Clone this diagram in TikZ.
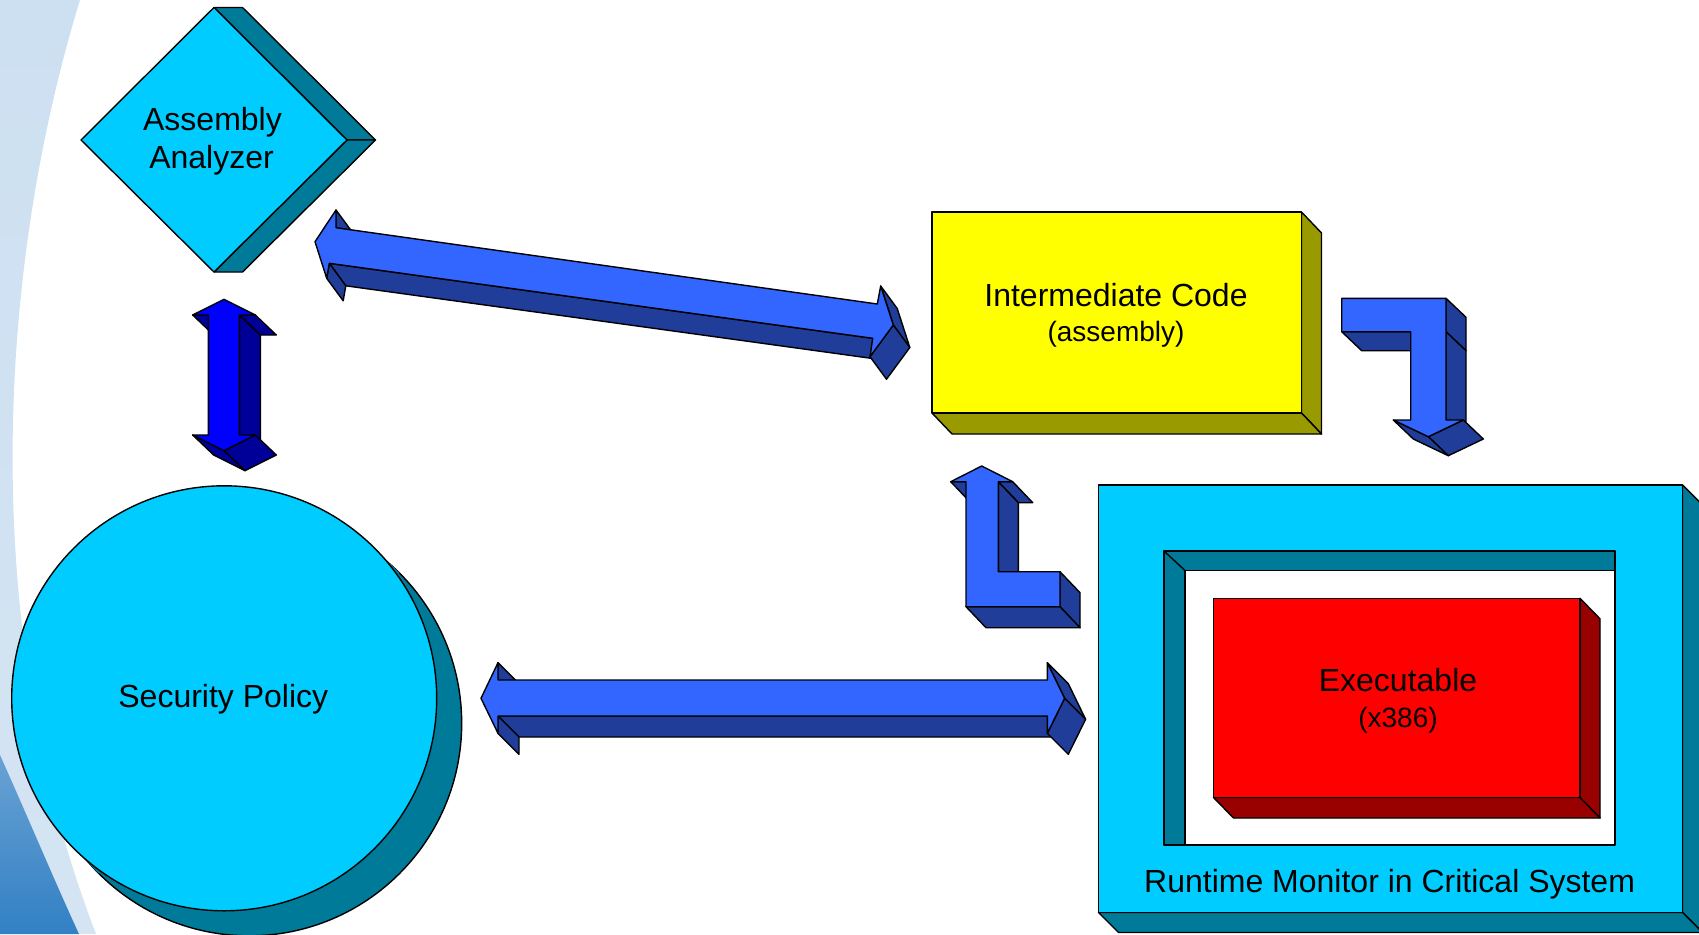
\documentclass[tikz,border=0pt]{standalone}
\usepackage{fontspec}
\setmainfont{Liberation Sans}
\usetikzlibrary{calc}

\definecolor{cyanface}{RGB}{0,204,255}
\definecolor{tealside}{RGB}{0,122,153}
\definecolor{yellowface}{RGB}{255,255,0}
\definecolor{oliveside}{RGB}{153,153,0}
\definecolor{redface}{RGB}{255,0,0}
\definecolor{redside}{RGB}{153,0,0}
\definecolor{arrowface}{RGB}{51,102,255}
\definecolor{arrowside}{RGB}{31,61,153}
\definecolor{deepface}{RGB}{0,0,255}
\definecolor{deepside}{RGB}{0,0,153}
\definecolor{swooshlight}{RGB}{205,224,241}
\definecolor{swooshmid}{RGB}{246,249,252}
\definecolor{swooshlow}{RGB}{212,228,243}
\definecolor{swooshdarktop}{RGB}{105,162,212}
\definecolor{swooshdarkbot}{RGB}{50,128,196}

% one extruded side of a solid: edge A--B swept along the depth vector
\newcommand\sideface[4]{\filldraw[#1] (#2) -- (#3) -- ($(#3)+(#4)$) -- ($(#2)+(#4)$) -- cycle;}

\tikzset{
  outline/.style={draw=black, line width=1.4pt, line join=round},
  cyanbox/.style={outline, fill=cyanface},
  tealbox/.style={outline, fill=tealside},
  yellowbox/.style={outline, fill=yellowface},
  olivebox/.style={outline, fill=oliveside},
  redbox/.style={outline, fill=redface},
  darkredbox/.style={outline, fill=redside},
  bluefront/.style={outline, fill=arrowface},
  blueside/.style={outline, fill=arrowside},
  deepfront/.style={outline, fill=deepface},
  deepsidebox/.style={outline, fill=deepside},
  maintext/.style={font=\fontsize{32}{38}\selectfont, anchor=base, inner sep=0pt},
  subtext/.style={font=\fontsize{28}{34}\selectfont, anchor=base, inner sep=0pt},
}

\begin{document}
\begin{tikzpicture}[x=1pt,y=-1pt]
\useasboundingbox (0,0) rectangle (1699,934);
\clip (0,0) rectangle (1699,934);
\fill[white] (0,0) rectangle (1699,934);

% background swoosh on the left edge
\shade[top color=swooshlight, middle color=swooshmid, bottom color=swooshlow]
  (0,0) -- (80,0) .. controls (0,260) and (-25,620) .. (96,934) -- (0,934) -- cycle;
\shade[top color=swooshdarktop, bottom color=swooshdarkbot]
  (0,755) .. controls (30,822) and (55,882) .. (79,934) -- (0,934) -- cycle;

% ---------- Security Policy (cylinder seen from the front)
\coordinate (spC) at (224.2,698.3);
\filldraw[tealbox] ($(spC)+(25,25)$) circle[radius=212.5pt];
\fill[tealside] ($(spC)+(150.3,-150.3)$) -- ($(spC)+(175.3,-125.3)$)
  -- ($(spC)+(-125.3,175.3)$) -- ($(spC)+(-150.3,150.3)$) -- cycle;
\filldraw[cyanbox] (spC) circle[radius=212.5pt];
\node[maintext] (sp) at (223.3,707.7) {Security Policy};

% ---------- Assembly Analyzer (diamond slab)
\coordinate (aaT) at (214,7.5);
\coordinate (aaR) at (347,140);
\coordinate (aaB) at (214,272);
\coordinate (aaL) at (81,140);
\sideface{tealbox}{aaT}{aaR}{28.5,0}
\sideface{tealbox}{aaR}{aaB}{28.5,0}
\filldraw[cyanbox] (aaT) -- (aaR) -- (aaB) -- (aaL) -- cycle;
\node[maintext] (aa) at (212.5,130) {Assembly};
\node[maintext] (aa2) at (211.5,168.3) {Analyzer};

% ---------- vertical double arrow (analyzer <-> policy)
\coordinate (v1) at (224,299.3);
\coordinate (v2) at (255.3,315);
\coordinate (v3) at (239.3,315);
\coordinate (v4) at (239.3,435);
\coordinate (v5) at (255.3,435);
\coordinate (v6) at (224,450.7);
\coordinate (v7) at (192.7,435);
\coordinate (v8) at (208.3,435);
\coordinate (v9) at (208.3,315);
\coordinate (v10) at (192.7,315);
\sideface{deepsidebox}{v2}{v3}{21,20}
\sideface{deepsidebox}{v3}{v4}{21,20}
\sideface{deepsidebox}{v9}{v10}{21,20}
\sideface{deepsidebox}{v5}{v6}{21,20}
\sideface{deepsidebox}{v6}{v7}{21,20}
\filldraw[deepfront] (v1) -- (v2) -- (v3) -- (v4) -- (v5) -- (v6) -- (v7)
  -- (v8) -- (v9) -- (v10) -- cycle;

% ---------- diagonal double arrow (analyzer <-> intermediate code)
\coordinate (g1) at (315,241.7);
\coordinate (g2) at (336,210);
\coordinate (g3) at (336,227.7);
\coordinate (g4) at (877.3,304);
\coordinate (g5) at (880.7,286);
\coordinate (g6) at (893.3,325);
\coordinate (g7) at (870,356.7);
\coordinate (g8) at (872.7,338.3);
\coordinate (g9) at (329.3,263.3);
\coordinate (g10) at (326.7,278.3);
\sideface{blueside}{g8}{g9}{16.5,22.5}
\sideface{blueside}{g9}{g10}{16.5,22.5}
\sideface{blueside}{g2}{g3}{16.5,22.5}
\sideface{blueside}{g5}{g6}{16.5,22.5}
\sideface{blueside}{g6}{g7}{16.5,22.5}
\filldraw[bluefront] (g1) -- (g2) -- (g3) -- (g4) -- (g5) -- (g6) -- (g7)
  -- (g8) -- (g9) -- (g10) -- cycle;

% ---------- horizontal double arrow (policy <-> runtime monitor)
\coordinate (h1) at (481,698.3);
\coordinate (h2) at (498,662.7);
\coordinate (h3) at (498,680);
\coordinate (h4) at (1047.3,680);
\coordinate (h5) at (1047.3,662.7);
\coordinate (h6) at (1064.6,698.3);
\coordinate (h7) at (1047.3,733.3);
\coordinate (h8) at (1047.3,716);
\coordinate (h9) at (498,716);
\coordinate (h10) at (498,733.3);
\sideface{blueside}{h8}{h9}{21,21}
\sideface{blueside}{h9}{h10}{21,21}
\sideface{blueside}{h2}{h3}{21,21}
\sideface{blueside}{h5}{h6}{21,21}
\sideface{blueside}{h6}{h7}{21,21}
\filldraw[bluefront] (h1) -- (h2) -- (h3) -- (h4) -- (h5) -- (h6) -- (h7)
  -- (h8) -- (h9) -- (h10) -- cycle;

% ---------- Intermediate Code (yellow slab)
\coordinate (icNW) at (932,212);
\coordinate (icNE) at (1301.5,212);
\coordinate (icSE) at (1301.5,413);
\coordinate (icSW) at (932,413);
\sideface{olivebox}{icNE}{icSE}{20,21}
\sideface{olivebox}{icSW}{icSE}{20,21}
\filldraw[yellowbox] (icNW) rectangle (icSE);
\node[maintext] (ic) at (1116,306) {Intermediate Code};
\node[subtext] (icsub) at (1116,341) {(assembly)};

% ---------- bent arrow: intermediate code -> runtime monitor
\coordinate (r1) at (1341.7,298.3);
\coordinate (r2) at (1446,298.3);
\coordinate (r2b) at (1446,331.7);
\coordinate (r3) at (1446,420);
\coordinate (r4) at (1463.3,420);
\coordinate (r5) at (1428.3,436.7);
\coordinate (r6) at (1393.3,420);
\coordinate (r7) at (1410.7,420);
\coordinate (r8) at (1410.7,331.7);
\coordinate (r9) at (1341.7,331.7);
\sideface{blueside}{r8}{r9}{20,19}
\sideface{blueside}{r2}{r2b}{20,19}
\sideface{blueside}{r2b}{r3}{20,19}
\sideface{blueside}{r4}{r5}{20,19}
\sideface{blueside}{r5}{r6}{20,19}
\filldraw[bluefront] (r1) -- (r2) -- (r3) -- (r4) -- (r5) -- (r6) -- (r7)
  -- (r8) -- (r9) -- cycle;

% ---------- bent arrow: runtime monitor -> intermediate code
\coordinate (l1) at (981.7,466);
\coordinate (l2) at (1012.7,481.7);
\coordinate (l3) at (998.3,481.7);
\coordinate (l4) at (998.3,571.7);
\coordinate (l5) at (1060,571.7);
\coordinate (l6) at (1060,606.7);
\coordinate (l7) at (966,606.7);
\coordinate (l8) at (966,481.7);
\coordinate (l9) at (950.7,481.7);
\sideface{blueside}{l8}{l9}{20,21}
\sideface{blueside}{l2}{l3}{20,21}
\sideface{blueside}{l3}{l4}{20,21}
\sideface{blueside}{l5}{l6}{20,21}
\sideface{blueside}{l6}{l7}{20,21}
\filldraw[bluefront] (l1) -- (l2) -- (l3) -- (l4) -- (l5) -- (l6) -- (l7)
  -- (l8) -- (l9) -- cycle;

% ---------- Runtime Monitor (cyan slab with a recessed window)
\coordinate (rmNW) at (1098.5,485);
\coordinate (rmNE) at (1682.5,485);
\coordinate (rmSE) at (1682.5,912.5);
\coordinate (rmSW) at (1098.5,912.5);
\sideface{tealbox}{rmNE}{rmSE}{20,20}
\sideface{tealbox}{rmSW}{rmSE}{20,20}
\filldraw[cyanbox] (rmNW) rectangle (rmSE);
\coordinate (wNW) at (1164,551);
\coordinate (wSE) at (1615,845);
\coordinate (wIn) at (1185,570.5);
\fill[tealside] (wNW) rectangle (wSE);
\fill[white] (wIn) rectangle (wSE);
\draw[outline] (wNW) rectangle (wSE);
\draw[outline] (wNW) -- (wIn);
\draw[outline] (wIn |- wSE) -- (wIn) -- (wIn -| wSE);
\node[maintext] (rm) at (1389.6,892.3) {Runtime Monitor in Critical System};

% ---------- Executable (red slab)
\coordinate (exNW) at (1213.5,598.3);
\coordinate (exNE) at (1580,598.3);
\coordinate (exSE) at (1580,797.5);
\coordinate (exSW) at (1213.5,797.5);
\sideface{darkredbox}{exNE}{exSE}{20,20.5}
\sideface{darkredbox}{exSW}{exSE}{20,20.5}
\filldraw[redbox] (exNW) rectangle (exSE);
\node[maintext] (ex) at (1398,691.7) {Executable};
\node[subtext] (exsub) at (1398,727) {(x386)};
\end{tikzpicture}
\end{document}
